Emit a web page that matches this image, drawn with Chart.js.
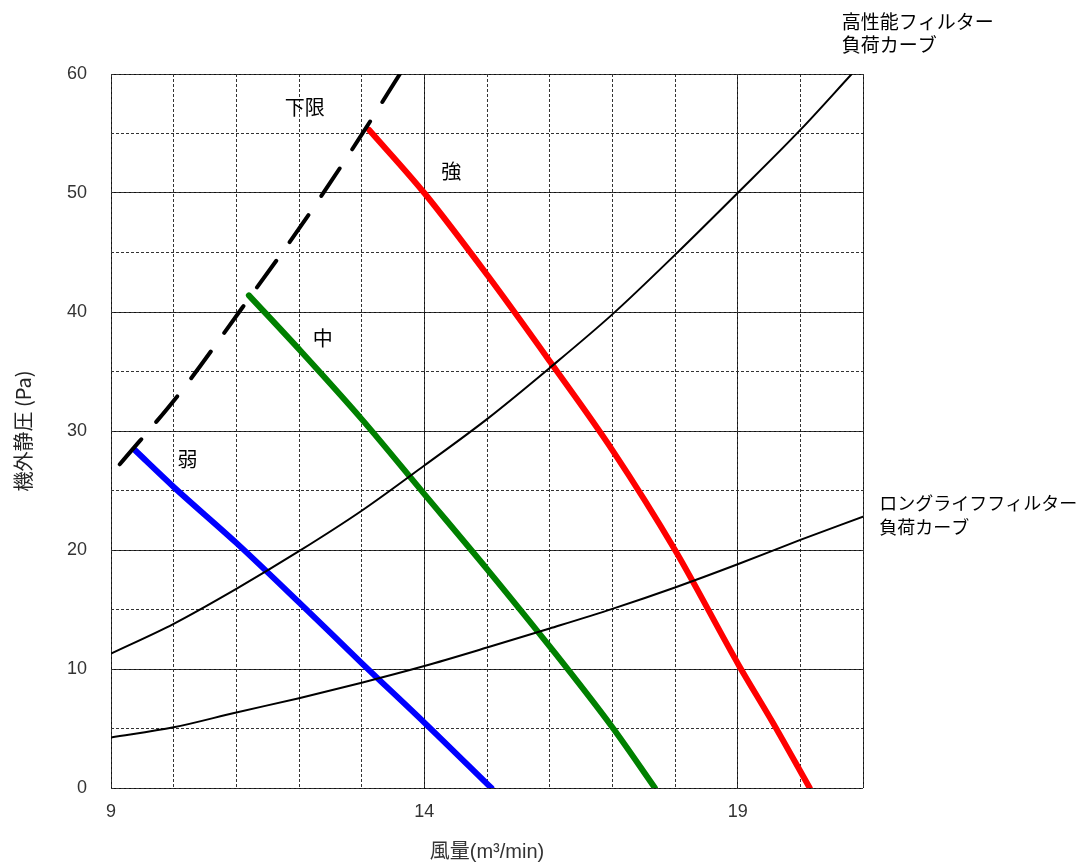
<!DOCTYPE html>
<html lang="ja">
<head>
<meta charset="utf-8">
<title>機外静圧 - 風量</title>
<script src="https://cdn.jsdelivr.net/npm/chart.js@4.4.1/dist/chart.umd.min.js"></script>
<style>
  html, body { margin: 0; padding: 0; background: #fff; }
</style>
</head>
<body>
<canvas id="chart" width="1081" height="867"></canvas>
<script>
// 目盛り
const xLabelTicks = [9, 14, 19];
const xMajorLines = [9, 14, 19, 21];
const yLabelTicks = [0, 10, 20, 30, 40, 50, 60];

// 弱・中・強 (風量 m3/min, 機外静圧 Pa)
const weakX   = [9.38, 10, 11, 12, 13, 14, 15.07];
const weakY   = [28.4, 25.3, 20.6, 15.6, 10.5, 5.5, 0];
const midX    = [11.2, 12.03, 13.0, 14.0, 15.0, 16.0, 17.0, 17.68];
const midY    = [41.4, 36.7, 31.0, 24.7, 18.4, 11.9, 5.1, 0];
const strongX = [13.12, 14.0, 15.02, 16.01, 17.0, 18.0, 19.02, 19.56, 20.15];
const strongY = [55.3, 50.0, 43.0, 35.8, 28.4, 20.0, 10.3, 5.5, 0];

// 下限
const limitX = [9.14, 10.1, 11.1, 12.0, 12.49, 13.0, 13.61];
const limitY = [27.2, 33.2, 40.4, 47.0, 50.8, 54.9, 60];

// フィルター負荷カーブ
const hepaX = [9, 10, 11.02, 12, 13, 14, 15, 16, 17, 18, 19, 20, 20.82];
const hepaY = [11.3, 13.8, 16.8, 19.9, 23.3, 27.1, 31.0, 35.3, 39.8, 44.8, 50.0, 55.3, 60];
const longX = [9, 10, 11, 12, 13, 14, 15, 16, 17, 18, 19, 20, 21];
const longY = [4.25, 5.1, 6.35, 7.55, 8.85, 10.25, 11.8, 13.4, 15.05, 16.85, 18.8, 20.85, 22.8];

const pts = (xs, ys) => xs.map((v, i) => ({ x: v, y: ys[i] }));

// 注記 (データ座標で配置)
const notes = [
  { lines: ['下限'], x: 12.09, y: 57.2, size: 20, align: 'center' },
  { lines: ['強'], x: 14.43, y: 51.8, size: 20, align: 'center' },
  { lines: ['中'], x: 12.38, y: 37.8, size: 20, align: 'center' },
  { lines: ['弱'], x: 10.22, y: 27.6, size: 20, align: 'center' },
  { lines: ['高性能フィルター', '負荷カーブ'], x: 20.66, y: 64.4, size: 19, align: 'left', gap: 23.3 },
  { lines: ['ロングライフフィルター', '負荷カーブ'], x: 21.26, y: 23.9, size: 18, align: 'left', gap: 23.5 }
];

const notePlugin = {
  id: 'notes',
  afterDatasetsDraw(chart) {
    const { ctx } = chart;
    const sx = chart.scales.x, sy = chart.scales.y;
    ctx.save();
    ctx.fillStyle = '#000';
    ctx.textBaseline = 'middle';
    notes.forEach(n => {
      ctx.font = n.size + 'px "Noto Sans CJK JP"';
      ctx.textAlign = n.align;
      const px = sx.getPixelForValue(n.x);
      const py = sy.getPixelForValue(n.y);
      n.lines.forEach((t, i) => ctx.fillText(t, px, py + i * (n.gap || 0)));
    });
    ctx.restore();
  }
};

const tickFont = { family: '"Liberation Sans", Arial, sans-serif', size: 18 };
const titleFont = { family: '"Liberation Sans", "Noto Sans CJK JP", sans-serif', size: 20 };

const curve = (label, data, color, width, extra) => Object.assign({
  label: label,
  data: data,
  borderColor: color,
  backgroundColor: color,
  borderWidth: width,
  pointRadius: 0,
  fill: false,
  cubicInterpolationMode: 'monotone',
  borderCapStyle: 'round',
  borderJoinStyle: 'round'
}, extra || {});

new Chart(document.getElementById('chart'), {
  type: 'line',
  data: {
    datasets: [
      curve('高性能フィルター負荷カーブ', pts(hepaX, hepaY), '#000', 2),
      curve('ロングライフフィルター負荷カーブ', pts(longX, longY), '#000', 2),
      curve('下限', pts(limitX, limitY), '#000', 4, { borderDash: [33, 23] }),
      curve('弱', pts(weakX, weakY), '#0000ff', 6),
      curve('中', pts(midX, midY), '#008000', 6),
      curve('強', pts(strongX, strongY), '#ff0000', 6)
    ]
  },
  options: {
    responsive: false,
    animation: false,
    layout: { padding: { top: 74, right: 218, bottom: 0, left: 0 } },
    plugins: {
      legend: { display: false },
      tooltip: { enabled: false }
    },
    scales: {
      x: {
        type: 'linear',
        position: 'bottom',
        min: 9,
        max: 21,
        afterBuildTicks: axis => { axis.ticks = xMajorLines.map(v => ({ value: v })); },
        afterFit: axis => { axis.height = 79; },
        ticks: {
          autoSkip: false,
          maxRotation: 0,
          padding: 13,
          color: '#333',
          font: tickFont,
          callback: v => (xLabelTicks.includes(v) ? String(v) : '')
        },
        grid: { color: '#111', lineWidth: 1, drawTicks: false },
        border: { display: false },
        title: {
          display: true,
          text: '風量(m³/min)',
          color: '#333',
          font: titleFont,
          padding: { top: 4, bottom: 3 }
        }
      },
      xMinor: {
        type: 'linear',
        position: 'top',
        min: 9,
        max: 21,
        afterFit: axis => { axis.height = 0; },
        ticks: { display: false, stepSize: 1 },
        grid: { color: '#333', lineWidth: 1, drawTicks: false },
        border: { display: false, dash: [3, 2] }
      },
      y: {
        type: 'linear',
        position: 'left',
        min: 0,
        max: 60,
        afterBuildTicks: axis => { axis.ticks = yLabelTicks.map(v => ({ value: v })); },
        afterFit: axis => { axis.width = 111; },
        ticks: { padding: 24, color: '#333', font: tickFont },
        grid: { color: '#111', lineWidth: 1, drawTicks: false },
        border: { display: false },
        title: {
          display: true,
          text: '機外静圧 (Pa)',
          color: '#222',
          font: { family: '"Noto Sans CJK JP", sans-serif', size: 20 },
          padding: { top: 11, bottom: 0 }
        }
      },
      yMinor: {
        type: 'linear',
        position: 'right',
        min: 0,
        max: 60,
        afterFit: axis => { axis.width = 0; },
        ticks: { display: false, stepSize: 5 },
        grid: { color: '#333', lineWidth: 1, drawTicks: false },
        border: { display: false, dash: [3, 2] }
      }
    }
  },
  plugins: [notePlugin]
});
</script>
</body>
</html>
